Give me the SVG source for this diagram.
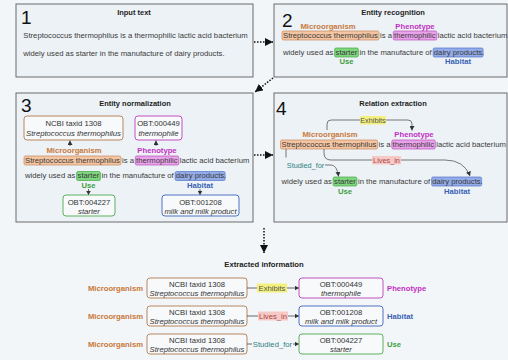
<svg xmlns="http://www.w3.org/2000/svg" width="508" height="360" viewBox="0 0 508 360">
<style>
text{font-family:"Liberation Sans",Arial,sans-serif}
.panel{fill:#edf2f7;stroke:#6a6a6a;stroke-width:1}
.num{font-size:19px;fill:#111}
.title{font-size:7.5px;font-weight:bold;fill:#222;text-anchor:middle}
.body{font-size:7.7px;fill:#3a3a3a}
.lab{font-size:7.7px;font-weight:bold;text-anchor:middle}
.mic{fill:#c8793a}.phe{fill:#c230c2}.use{fill:#3e9e3e}.hab{fill:#3a62b6}
.hlo{fill:#f5c5a2;stroke:#c98a5c;stroke-width:0.7}
.hlm{fill:#eba2ec;stroke:#b552b5;stroke-width:0.7}
.hlg{fill:#7ed67e;stroke:#45a645;stroke-width:0.7}
.hlb{fill:#93abe8;stroke:#5574c8;stroke-width:0.7}
.hly{fill:#f4f07c}
.hlp{fill:#f7c9c6}
.bx{fill:#f7f9fb;stroke-width:1}
.bo{stroke:#b8875e}.bm{stroke:#c350c3}.bg{stroke:#5fb05f}.bb{stroke:#4f72c4}
.bt{font-size:7.7px;fill:#333;text-anchor:middle}
.it{font-style:italic}
.dot{stroke:#111;stroke-width:1.5;stroke-dasharray:1.5 1.5;fill:none}
.sm{stroke:#444;stroke-width:0.8;fill:none}
.cv{stroke:#777;stroke-width:1;fill:none}
.rl{font-size:7.3px;fill:#555;text-anchor:middle}
.li{fill:#a84848}
.sf{fill:#2f7f7f}
</style>
<defs>
<marker id="big" markerUnits="userSpaceOnUse" markerWidth="9" markerHeight="8" refX="8" refY="4" orient="auto"><path d="M0,0 L8,4 L0,8 z" fill="#111"/></marker>
<marker id="ah" markerUnits="userSpaceOnUse" markerWidth="5" markerHeight="5" refX="4.5" refY="2.5" orient="auto"><path d="M0,0 L4.5,2.5 L0,5 z" fill="#333"/></marker>
</defs>
<rect width="508" height="360" fill="#f2f6f9"/>

<g id="panel1">
<rect class="panel" x="16" y="4" width="237" height="73"/>
<text class="num" x="21" y="24">1</text>
<text class="title" x="134" y="14.5">Input text</text>
<text class="body" x="23.3" y="37.5">Streptococcus thermophilus is a thermophilic lactic acid bacterium</text>
<text class="body" x="23.3" y="55.5">widely used as starter in the manufacture of dairy products.</text>
</g>

<g id="panel2">
<rect class="panel" x="274" y="4" width="233" height="73"/>
<text class="num" x="282" y="27">2</text>
<text class="title" x="393" y="14.5">Entity recognition</text>
<text class="lab mic" x="328" y="28.5">Microorganism</text>
<text class="lab phe" x="415" y="28.5">Phenotype</text>
<rect class="hlo" x="282" y="31" width="97" height="9" rx="1.5"/>
<rect class="hlm" x="393.3" y="31" width="43.5" height="9" rx="1.5"/>
<text class="body" x="283" y="37.5">Streptococcus thermophilus is a thermophilic lactic acid bacterium</text>
<rect class="hlg" x="334.6" y="48" width="23.8" height="9" rx="1.5"/>
<rect class="hlb" x="433.1" y="48" width="50" height="9" rx="1.5"/>
<text class="body" x="283" y="54.5">widely used as starter in the manufacture of dairy products.</text>
<text class="lab use" x="346.5" y="63.5">Use</text>
<text class="lab hab" x="458" y="63.5">Habitat</text>
</g>

<g id="panel3">
<rect class="panel" x="16" y="93" width="237" height="129"/>
<text class="num" x="21" y="112">3</text>
<text class="title" x="135" y="105.5">Entity normalization</text>
<rect class="bx bo" x="24" y="116" width="99" height="24" rx="3"/>
<text class="bt" x="73.5" y="125.5">NCBI taxid 1308</text>
<text class="bt it" x="73.5" y="135.5">Streptococcus thermophilus</text>
<rect class="bx bm" x="135" y="116" width="47" height="24" rx="3"/>
<text class="bt" x="158.5" y="125.5">OBT:000449</text>
<text class="bt it" x="158.5" y="135.5">thermophile</text>
<line class="sm" x1="70" y1="146" x2="70" y2="140.5" marker-end="url(#ah)"/>
<line class="sm" x1="156" y1="146" x2="156" y2="140.5" marker-end="url(#ah)"/>
<text class="lab mic" x="74" y="152.5">Microorganism</text>
<text class="lab phe" x="157" y="152.5">Phenotype</text>
<rect class="hlo" x="24" y="156" width="97" height="9" rx="1.5"/>
<rect class="hlm" x="135.3" y="156" width="43.5" height="9" rx="1.5"/>
<text class="body" x="25" y="162.5">Streptococcus thermophilus is a thermophilic lactic acid bacterium</text>
<rect class="hlg" x="76.6" y="171.5" width="23.8" height="9" rx="1.5"/>
<rect class="hlb" x="175.1" y="171.5" width="50" height="9" rx="1.5"/>
<text class="body" x="25" y="178">widely used as starter in the manufacture of dairy products.</text>
<text class="lab use" x="88.5" y="187.5">Use</text>
<text class="lab hab" x="200" y="187.5">Habitat</text>
<line class="sm" x1="88.5" y1="189" x2="88.5" y2="195" marker-end="url(#ah)"/>
<line class="sm" x1="200" y1="189" x2="200" y2="195" marker-end="url(#ah)"/>
<rect class="bx bg" x="63" y="195" width="52" height="21" rx="3"/>
<text class="bt" x="89" y="204.5">OBT:004227</text>
<text class="bt it" x="89" y="213.5">starter</text>
<rect class="bx bb" x="162" y="195" width="77" height="21" rx="3"/>
<text class="bt" x="200.5" y="204.5">OBT:001208</text>
<text class="bt it" x="200.5" y="213.5">milk and milk product</text>
</g>

<g id="panel4">
<rect class="panel" x="274" y="93" width="233" height="129"/>
<text class="num" x="276" y="115">4</text>
<text class="title" x="393" y="105.5">Relation extraction</text>
<text class="lab mic" x="330" y="136.5">Microorganism</text>
<text class="lab phe" x="414" y="136.5">Phenotype</text>
<rect class="hlo" x="280.5" y="140" width="97" height="9" rx="1.5"/>
<rect class="hlm" x="391.8" y="140" width="43.5" height="9" rx="1.5"/>
<text class="body" x="281.5" y="146.5">Streptococcus thermophilus is a thermophilic lactic acid bacterium</text>
<rect class="hlg" x="333.1" y="177" width="23.8" height="9" rx="1.5"/>
<rect class="hlb" x="431.6" y="177" width="50" height="9" rx="1.5"/>
<text class="body" x="281.5" y="183.5">widely used as starter in the manufacture of dairy products.</text>
<text class="lab use" x="345" y="193.5">Use</text>
<text class="lab hab" x="457" y="193.5">Habitat</text>
</g>

<g id="connectors">
<line class="dot" x1="254" y1="42" x2="273" y2="42" marker-end="url(#big)"/>
<line class="dot" x1="273" y1="78" x2="255" y2="92" marker-end="url(#big)"/>
<line class="dot" x1="254" y1="155" x2="273" y2="155" marker-end="url(#big)"/>
<line class="dot" x1="264" y1="228" x2="264" y2="253" marker-end="url(#big)"/>

<path class="cv" d="M327,130 V124 Q327,120 331,120 H360"/>
<rect class="hly" x="360" y="116" width="26" height="8.5" rx="1"/>
<text class="rl" x="373" y="122.8">Exhibits</text>
<path class="cv" d="M386,120 H408 Q412,120 412,124 V130.5" marker-end="url(#ah)"/>

<path class="cv" d="M324,149 V153 Q324,160 331,160 H372"/>
<rect class="hlp" x="372" y="156" width="29" height="8.5" rx="1"/>
<text class="rl li" x="386.5" y="162.8">Lives_in</text>
<path class="cv" d="M401,160 H445 Q464,160 470,176" marker-end="url(#ah)"/>

<line class="cv" x1="286" y1="149" x2="286" y2="157.5"/>
<text class="rl sf" x="305.5" y="167.8">Studied_for</text>
<path class="cv" d="M325,165 H331 Q337,165 338.5,176.5" marker-end="url(#ah)"/>
</g>

<g id="extracted">
<text class="title" x="264" y="267" style="font-size:7.7px">Extracted information</text>

<g id="row1">
<text class="lab mic" x="143" y="290.5" text-anchor="end" style="text-anchor:end">Microorganism</text>
<rect class="bx bo" x="147" y="278" width="100" height="20" rx="3"/>
<text class="bt" x="197" y="286.5">NCBI taxid 1308</text>
<text class="bt it" x="197" y="295.5">Streptococcus thermophilus</text>
<line class="sm" x1="247" y1="288" x2="257" y2="288"/>
<rect class="hly" x="257" y="283.5" width="30" height="9"/>
<text class="bt" x="272" y="290.8" style="fill:#555">Exhibits</text>
<line class="sm" x1="287" y1="288" x2="299" y2="288" marker-end="url(#ah)"/>
<rect class="bx bm" x="299" y="278" width="84" height="20" rx="3"/>
<text class="bt" x="341" y="286.5">OBT:000449</text>
<text class="bt it" x="341" y="295.5">thermophile</text>
<text class="lab phe" x="387" y="290.5" style="text-anchor:start">Phenotype</text>
</g>

<g id="row2">
<text class="lab mic" x="143" y="318.5" style="text-anchor:end">Microorganism</text>
<rect class="bx bo" x="147" y="306" width="100" height="20" rx="3"/>
<text class="bt" x="197" y="314.5">NCBI taxid 1308</text>
<text class="bt it" x="197" y="323.5">Streptococcus thermophilus</text>
<line class="sm" x1="247" y1="316" x2="258" y2="316"/>
<rect class="hlp" x="258" y="311.5" width="30" height="9"/>
<text class="bt li" x="273" y="318.8">Lives_in</text>
<line class="sm" x1="288" y1="316" x2="299" y2="316" marker-end="url(#ah)"/>
<rect class="bx bb" x="299" y="306" width="84" height="20" rx="3"/>
<text class="bt" x="341" y="314.5">OBT:001208</text>
<text class="bt it" x="341" y="323.5">milk and milk product</text>
<text class="lab hab" x="387" y="318.5" style="text-anchor:start">Habitat</text>
</g>

<g id="row3">
<text class="lab mic" x="143" y="346.5" style="text-anchor:end">Microorganism</text>
<rect class="bx bo" x="147" y="334" width="100" height="20" rx="3"/>
<text class="bt" x="197" y="342.5">NCBI taxid 1308</text>
<text class="bt it" x="197" y="351.5">Streptococcus thermophilus</text>
<line class="sm" x1="247" y1="344" x2="252" y2="344"/>
<text class="bt sf" x="272.5" y="346.8">Studied_for</text>
<line class="sm" x1="293" y1="344" x2="299" y2="344" marker-end="url(#ah)"/>
<rect class="bx bg" x="299" y="334" width="84" height="20" rx="3"/>
<text class="bt" x="341" y="342.5">OBT:004227</text>
<text class="bt it" x="341" y="351.5">starter</text>
<text class="lab use" x="387" y="346.5" style="text-anchor:start">Use</text>
</g>
</g>
</svg>
